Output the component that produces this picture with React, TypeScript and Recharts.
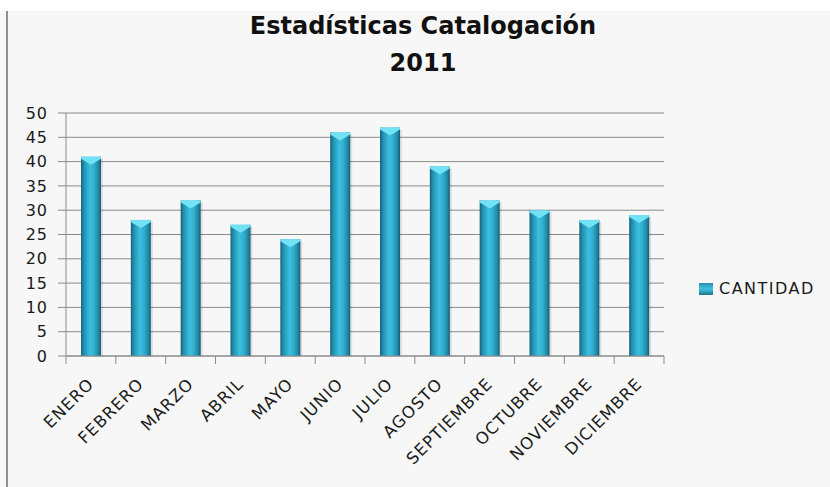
import React from "react";
import { BarChart, Bar, XAxis, YAxis, CartesianGrid, Legend } from "recharts";

const months = ["ENERO", "FEBRERO", "MARZO", "ABRIL", "MAYO", "JUNIO", "JULIO", "AGOSTO", "SEPTIEMBRE", "OCTUBRE", "NOVIEMBRE", "DICIEMBRE"];
const cantidad = [41, 28, 32, 27, 24, 46, 47, 39, 32, 30, 28, 29];
const yTicks = [0, 5, 10, 15, 20, 25, 30, 35, 40, 45, 50];
const titleLines = ["Estadísticas Catalogación", "2011"];
const seriesName = "CANTIDAD";

const data = months.map((m, i) => ({ mes: m, cantidad: cantidad[i] }));

const FONT = "'DejaVu Sans', sans-serif";
const TICK_SIZE = 8;
const TICK_MARGIN = 2;

const CylBar = (p: any) => {
  const { x, y, width, height } = p;
  if (!height || height <= 0) return null;
  return (
    <g>
      <rect x={x + 2} y={y + 2} width={width} height={height - 2} fill="rgba(0,0,0,0.10)" />
      <rect x={x} y={y} width={width} height={height} fill="url(#cylGrad)" />
      <path
        d={`M${x},${y} L${x + width},${y} L${x + width},${y + 2} L${x + width / 2},${y + 8} L${x},${y + 2} Z`}
        fill="#72e2f7"
      />
    </g>
  );
};

const XTick = (p: any) => {
  const { x, y, payload, index, visibleTicksCount } = p;
  const off = payload.offset ?? 0;
  const axisY = y - TICK_SIZE - TICK_MARGIN;
  const tx = x + 4;
  const ty = axisY + 29;
  return (
    <g>
      <line x1={x - off} x2={x - off} y1={axisY} y2={axisY + TICK_SIZE} stroke="#8a8a8a" />
      {index === visibleTicksCount - 1 && (
        <line x1={x + off} x2={x + off} y1={axisY} y2={axisY + TICK_SIZE} stroke="#8a8a8a" />
      )}
      <text
        x={tx}
        y={ty}
        transform={`rotate(-45, ${tx}, ${ty})`}
        textAnchor="end"
        fontFamily={FONT}
        fontSize={16.5}
        letterSpacing={1}
        fill="#1a1a1a"
      >
        {payload.value}
      </text>
    </g>
  );
};

const LegendContent = () => (
  <div style={{ display: "flex", alignItems: "center", fontFamily: FONT, fontSize: 16, letterSpacing: 1.5, color: "#1a1a1a" }}>
    <svg width={16} height={13} style={{ marginRight: 5 }}>
      <defs>
        <linearGradient id="legGrad" x1="0" y1="0" x2="0" y2="1">
          <stop offset="0%" stopColor="#2a8fae" />
          <stop offset="50%" stopColor="#3fc3e2" />
          <stop offset="100%" stopColor="#1e7590" />
        </linearGradient>
      </defs>
      <rect x={1} y={1} width={14} height={12} fill="url(#legGrad)" />
    </svg>
    <span>{seriesName}</span>
  </div>
);

export default function App() {
  return (
    <div style={{ position: "absolute", left: 0, top: 0, width: 830, height: 487, background: "#ffffff", overflow: "hidden" }}>
      <div style={{ position: "absolute", left: 0, top: 11, width: 830, height: 476, background: "#f7f7f7" }} />
      <div style={{ position: "absolute", left: 6, top: 11, width: 2, height: 476, background: "#8f8f8f" }} />
      <svg style={{ position: "absolute", left: 0, top: 0 }} width={830} height={100}>
        <text x={423} y={34} textAnchor="middle" fontFamily={FONT} fontWeight="bold" fontSize={24} fill="#111">
          {titleLines[0]}
        </text>
        <text x={423} y={71} textAnchor="middle" fontFamily={FONT} fontWeight="bold" fontSize={24} fill="#111">
          {titleLines[1]}
        </text>
      </svg>
      <div style={{ position: "absolute", left: 0, top: 0 }}>
        <BarChart width={830} height={487} data={data} margin={{ top: 113, right: 166, left: 0, bottom: 0 }} barSize={20}>
          <defs>
            <linearGradient id="cylGrad" x1="0" y1="0" x2="1" y2="0">
              <stop offset="0%" stopColor="#15627a" />
              <stop offset="15%" stopColor="#2390b0" />
              <stop offset="45%" stopColor="#3bbfdf" />
              <stop offset="65%" stopColor="#33b0d0" />
              <stop offset="88%" stopColor="#2087a5" />
              <stop offset="100%" stopColor="#135b73" />
            </linearGradient>
          </defs>
          <CartesianGrid horizontal={true} vertical={false} stroke="#8a8a8a" />
          <XAxis
            dataKey="mes"
            height={131}
            interval={0}
            tickLine={false}
            tickSize={TICK_SIZE}
            tickMargin={TICK_MARGIN}
            axisLine={{ stroke: "#8a8a8a" }}
            tick={<XTick />}
          />
          <YAxis
            width={66}
            domain={[0, 50]}
            ticks={yTicks}
            interval={0}
            tickSize={8}
            tickMargin={10}
            tickLine={{ stroke: "#8a8a8a" }}
            axisLine={{ stroke: "#8a8a8a" }}
            tick={{ fontFamily: FONT, fontSize: 16, fill: "#1a1a1a", letterSpacing: 1 } as any}
          />
          <Legend
            layout="horizontal"
            align="center"
            verticalAlign="middle"
            content={<LegendContent />}
            wrapperStyle={{ left: 698, top: 279, width: 132, height: 20 }}
          />
          <Bar dataKey="cantidad" name={seriesName} shape={<CylBar />} isAnimationActive={false} />
        </BarChart>
      </div>
    </div>
  );
}
